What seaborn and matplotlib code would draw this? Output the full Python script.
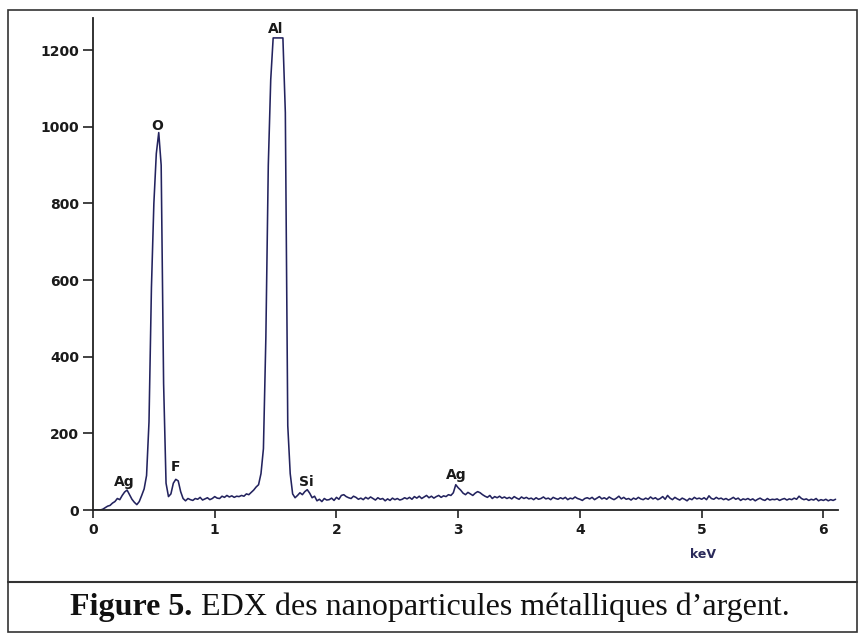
import numpy as np
import pandas as pd
import matplotlib
matplotlib.use("Agg")
import matplotlib.pyplot as plt
from matplotlib.patches import Rectangle
from matplotlib.lines import Line2D
import seaborn as sns

# ---------------- data ----------------
energy_step = 0.02  # keV per channel
counts = [
    0, 0, 0, 0, 2, 6, 10, 12, 18, 22,            # 0.00-0.18
    30, 27, 38, 47, 52, 40, 28, 20, 14, 22,      # 0.20-0.38
    38, 55, 90, 230, 580, 800, 930, 985, 900, 330,  # 0.40-0.58
    70, 35, 42, 70, 80, 76, 48, 30, 24, 30,      # 0.60-0.78
    27, 25, 30, 28, 33, 26, 29, 32, 27, 30,      # 0.80-0.98
    35, 31, 30, 36, 33, 38, 34, 37, 33, 36,      # 1.00-1.18
    35, 38, 36, 42, 40, 46, 52, 60, 66, 95,      # 1.20-1.38
    160, 450, 900, 1123, 1232, 1232, 1232, 1232, 1232, 1037,  # 1.40-1.58
    220, 95, 42, 32, 38, 45, 40, 48, 53, 44,     # 1.60-1.78
    32, 36, 24, 28, 22, 30, 26, 27, 31, 25,      # 1.80-1.98
    33, 28, 38, 40, 35, 32, 30, 36, 33, 28,      # 2.00-2.18
    31, 27, 33, 29, 34, 30, 26, 32, 28, 30,      # 2.20-2.38
    24, 29, 25, 31, 27, 30, 26, 28, 32, 29,      # 2.40-2.58
    33, 28, 35, 31, 36, 30, 34, 38, 32, 36,      # 2.60-2.78
    31, 35, 38, 33, 37, 35, 40, 38, 45, 66,      # 2.80-2.98
    58, 52, 44, 40, 46, 42, 38, 44, 48, 45,      # 3.00-3.18
    40, 36, 33, 38, 30, 35, 32, 36, 31, 34,      # 3.20-3.38
    30, 33, 29, 35, 31, 28, 34, 30, 33, 29,      # 3.40-3.58
    31, 27, 32, 28, 30, 34, 29, 31, 27, 33,      # 3.60-3.78
    30, 28, 32, 29, 33, 27, 31, 29, 34, 30,      # 3.80-3.98
    28, 25, 30, 32, 29, 33, 27, 31, 35, 29,      # 4.00-4.18
    32, 28, 34, 30, 27, 31, 36, 29, 33, 28,      # 4.20-4.38
    30, 26, 31, 28, 33, 29, 27, 31, 28, 34,      # 4.40-4.58
    29, 32, 27, 30, 35, 28, 38, 31, 27, 33,      # 4.60-4.78
    29, 26, 31, 28, 24, 30, 27, 33, 29, 31,      # 4.80-4.98
    28, 32, 27, 37, 30, 28, 33, 29, 31, 27,      # 5.00-5.18
    30, 26, 29, 33, 28, 31, 25, 29, 27, 30,      # 5.20-5.38
    26, 29, 24, 28, 31, 27, 25, 30, 26, 28,      # 5.40-5.58
    27, 29, 25, 28, 30, 26, 29, 27, 31, 28,      # 5.60-5.78
    36, 30, 27, 29, 25, 28, 26, 30, 24, 27,      # 5.80-5.98
    25, 28, 24, 27, 25, 28,                      # 6.00-6.10
]
energy = np.round(np.arange(len(counts)) * energy_step, 2)

peak_labels = ["Ag", "O", "F", "Al", "Si", "Ag"]
peak_x = [0.26, 0.525, 0.68, 1.50, 1.75, 2.98]
peak_y = [56, 985, 94, 1238, 54, 74]

x_ticks = [0, 1, 2, 3, 4, 5, 6]
y_ticks = [0, 200, 400, 600, 800, 1000, 1200]
x_label = "keV"
caption_bold = "Figure 5."
caption_rest = " EDX des nanoparticules métalliques d\u2019argent."

# ---------------- figure ----------------
sns.set_style("ticks")
plt.rcParams["font.family"] = ["DejaVu Sans"]

W, H = 860, 633
fig = plt.figure(figsize=(W / 100, H / 100), dpi=100)
fig.patch.set_facecolor("white")

def fx(px):
    return px / W

def fy(py):
    return 1 - py / H

ax = fig.add_axes([fx(93), fy(510), fx(838) - fx(93), fy(18) - fy(510)])
df = pd.DataFrame({"keV": energy, "counts": counts})
line_color = "#23235e"
sns.lineplot(data=df, x="keV", y="counts", ax=ax, color=line_color, lw=1.15)

ax.set_xlim(0, 6.12)
ax.set_ylim(0, 1284)
ax.set_xticks(x_ticks)
ax.set_yticks(y_ticks)
ax.set_xlabel("")
ax.set_ylabel("")
for s in ["top", "right"]:
    ax.spines[s].set_visible(False)
for s in ["left", "bottom"]:
    ax.spines[s].set_color("#222222")
    ax.spines[s].set_linewidth(1.3)
ax.tick_params(axis="y", length=7, width=1.2, pad=3, labelsize=10, color="#222222")
ax.tick_params(axis="x", length=6, width=1.2, pad=3, labelsize=10, color="#222222")
for lab in ax.get_xticklabels() + ax.get_yticklabels():
    lab.set_fontweight("bold")
    lab.set_color("#1a1a1a")

for t, x, y in zip(peak_labels, peak_x, peak_y):
    ax.text(x, y, t, ha="center", va="bottom", fontsize=10, fontweight="bold",
            color="#1a1a1a")

fig.text(fx(703), fy(555), x_label, ha="center", va="center", fontsize=9,
         fontweight="bold", color="#2a2a5a")

# frame and caption separator
fig.add_artist(Rectangle((fx(8), fy(632)), fx(857) - fx(8), fy(10) - fy(632),
                         transform=fig.transFigure, fill=False,
                         edgecolor="#333333", lw=1.2))
fig.add_artist(Line2D([fx(8), fx(857)], [fy(582), fy(582)], transform=fig.transFigure,
                      color="#333333", lw=1.5))

# caption with bold part
cap_y = fy(607)
t1 = fig.text(0, cap_y, caption_bold, family="Liberation Serif", fontweight="bold",
              fontsize=23, va="center", ha="left", color="#111111")
t2 = fig.text(0, cap_y, caption_rest, family="Liberation Serif",
              fontsize=23, va="center", ha="left", color="#111111")
fig.canvas.draw()
r = fig.canvas.get_renderer()
w1 = t1.get_window_extent(r).width
w2 = t2.get_window_extent(r).width
total = w1 + w2
start = (W - total) / 2
t1.set_x(start / W)
t2.set_x((start + w1) / W)

fig.savefig("out.png", dpi=100)
